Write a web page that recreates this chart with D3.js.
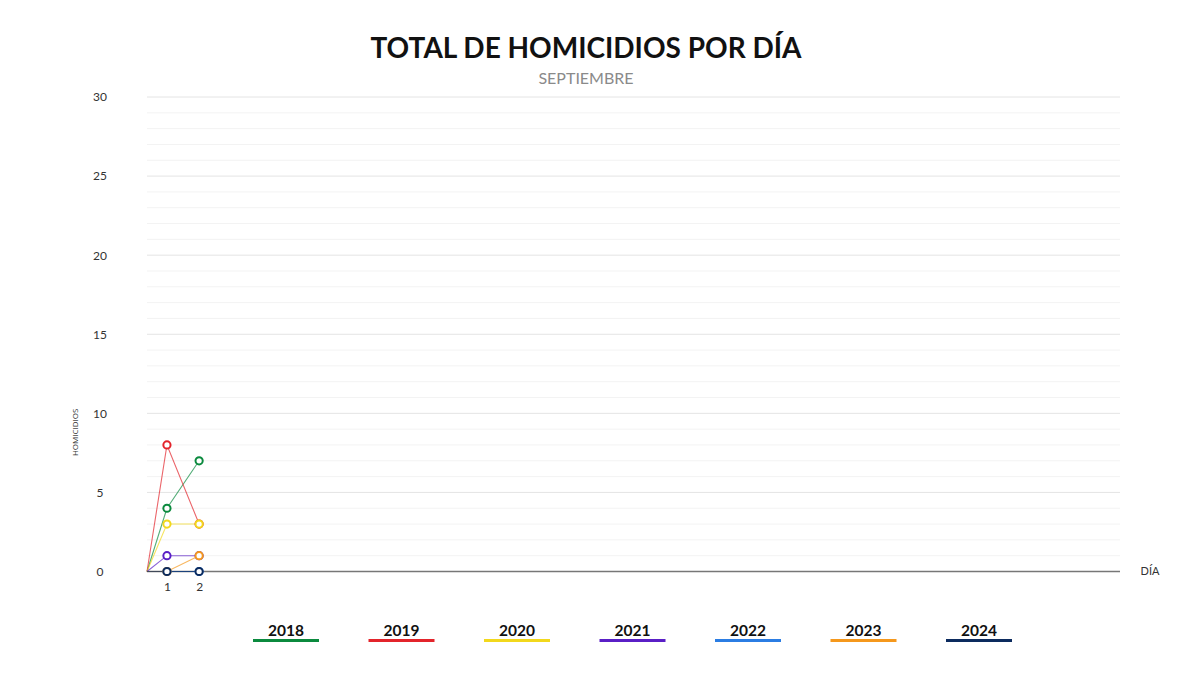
<!DOCTYPE html>
<html>
<head>
<meta charset="utf-8">
<script src="https://cdn.jsdelivr.net/npm/d3@7/dist/d3.min.js"></script>
<style>
  html, body { margin: 0; padding: 0; background: #fff; }
  svg { display: block; }
</style>
</head>
<body>
<svg id="chart" width="1200" height="675"></svg>
<script>
// ---- data ----
const years = ["2018", "2019", "2020", "2021", "2022", "2023", "2024"];
const colors = ["#0b8a3e", "#e3242b", "#f2d81c", "#5a1fc6", "#2b7de3", "#f5981c", "#0c2b5e"];
const daysShown = [1, 2];
const v2018 = [4, 7];
const v2019 = [8, 3];
const v2020 = [3, 3];
const v2021 = [1, 1];
const v2022 = [0, 0];
const v2023 = [0, 1];
const v2024 = [0, 0];
const seriesValues = [v2018, v2019, v2020, v2021, v2022, v2023, v2024];
const allDays = d3.range(1, 31);
const yTicks = [0, 5, 10, 15, 20, 25, 30];
const yMinor = d3.range(0, 31);

const svg = d3.select("#chart");
const pLeft = 147, pRight = 1120, pTop = 97, pBottom = 571.5;

const x = d3.scalePoint().domain(allDays).range([pLeft, pRight]).padding(0.62);
const y = d3.scaleLinear().domain([0, 30]).range([pBottom, pTop]);

// title
svg.append("text").attr("x", 586).attr("y", 58).attr("text-anchor", "middle")
  .attr("font-family", "Lato, 'Open Sans', sans-serif").attr("font-weight", 700)
  .attr("font-size", 28).attr("fill", "#111").text("TOTAL DE HOMICIDIOS POR DÍA");
svg.append("text").attr("x", 586).attr("y", 84).attr("text-anchor", "middle")
  .attr("font-family", "Lato, 'Open Sans', sans-serif").attr("font-weight", 400)
  .attr("font-size", 16).attr("fill", "#8a8a8a").text("SEPTIEMBRE");

// grid
const g = svg.append("g");
g.selectAll("line.minor").data(yMinor.filter(d => d % 5 !== 0)).join("line")
  .attr("x1", pLeft).attr("x2", pRight).attr("y1", d => y(d)).attr("y2", d => y(d))
  .attr("stroke", "#f3f3f3").attr("stroke-width", 1);
g.selectAll("line.major").data(yTicks.filter(d => d !== 0)).join("line")
  .attr("x1", pLeft).attr("x2", pRight).attr("y1", d => y(d)).attr("y2", d => y(d))
  .attr("stroke", "#e4e4e4").attr("stroke-width", 1);

// y labels
const yAxis = d3.axisLeft(y).tickValues(yTicks).tickSize(0).tickPadding(0);
const ya = svg.append("g").attr("transform", "translate(100,0)").call(yAxis);
ya.select(".domain").remove();
ya.selectAll("text").attr("text-anchor", "middle").attr("font-family", "Lato, 'Open Sans', sans-serif")
  .attr("font-size", 12).attr("fill", "#333");

// y title
svg.append("text").attr("transform", `translate(78,${y(8.8)}) rotate(-90)`)
  .attr("text-anchor", "middle").attr("font-family", "'Open Sans', sans-serif")
  .attr("font-size", 8).attr("fill", "#333").text("HOMICIDIOS");

// x axis line
svg.append("line").attr("x1", pLeft).attr("x2", pRight).attr("y1", y(0)).attr("y2", y(0))
  .attr("stroke", "#777").attr("stroke-width", 1.5);

const xAxis = d3.axisBottom(x).tickValues(daysShown).tickSize(0).tickPadding(11);
const xa = svg.append("g").attr("transform", `translate(0,${y(0)})`).call(xAxis);
xa.select(".domain").remove();
xa.selectAll("text").attr("font-family", "Lato, 'Open Sans', sans-serif")
  .attr("font-size", 12).attr("fill", "#333");

svg.append("text").attr("x", 1150).attr("y", y(0) + 3).attr("text-anchor", "middle")
  .attr("font-family", "Lato, 'Open Sans', sans-serif").attr("font-size", 11).attr("fill", "#333").text("DÍA");

// lines
const lineGen = d3.line().x(d => d[0]).y(d => y(d[1]));
seriesValues.forEach((vals, i) => {
  const pts = [[pLeft, 0]].concat(vals.map((v, j) => [x(daysShown[j]), v]));
  svg.append("path").attr("d", lineGen(pts)).attr("fill", "none")
    .attr("stroke", colors[i]).attr("stroke-width", 1.1).attr("stroke-opacity", 0.7);
});
seriesValues.forEach((vals, i) => {
  svg.append("g").selectAll("circle").data(vals).join("circle")
    .attr("cx", (v, j) => x(daysShown[j])).attr("cy", v => y(v)).attr("r", 3.6)
    .attr("fill", "#fff").attr("stroke", colors[i]).attr("stroke-width", 2);
});

// legend
const lx = d3.scalePoint().domain(years).range([286, 979]);
const lg = svg.append("g");
years.forEach((yr, i) => {
  lg.append("text").attr("x", lx(yr)).attr("y", 636).attr("text-anchor", "middle")
    .attr("font-family", "Lato, 'Open Sans', sans-serif").attr("font-weight", 700)
    .attr("font-size", 15.5).attr("fill", "#111").text(yr);
  lg.append("line").attr("x1", lx(yr) - 33).attr("x2", lx(yr) + 33).attr("y1", 640.5).attr("y2", 640.5)
    .attr("stroke", colors[i]).attr("stroke-width", 3);
});
</script>
</body>
</html>
